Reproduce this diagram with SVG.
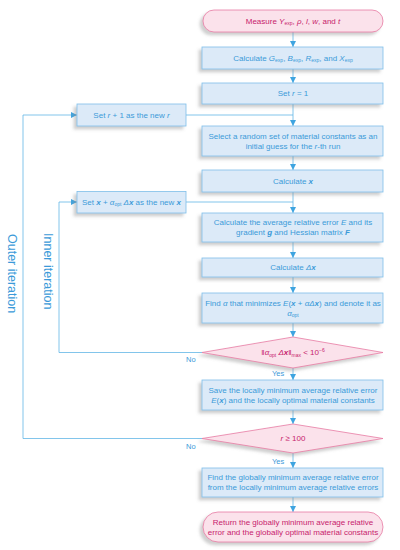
<svg xmlns="http://www.w3.org/2000/svg" width="400" height="550" viewBox="0 0 400 550">
<defs>
<style>
.box{fill:#dceaf8;stroke:#7fbfe9;stroke-width:0.8}
.term{fill:#fbe2eb;stroke:#e77ba3;stroke-width:0.8}
.dia{fill:#fbe2eb;stroke:#e77ba3;stroke-width:0.8}
text{font-family:"Liberation Sans",Arial,sans-serif;font-size:8px}
.t{fill:#3b9ad9;text-anchor:middle}
.p{fill:#c71c6c;text-anchor:middle}
.lbl{fill:#3b9ad9;font-size:7.5px}
.big{fill:#3b9ad9;font-size:12.5px}
.con{fill:none;stroke:#62b6e6;stroke-width:0.8}
.i{font-style:italic}
.b{font-style:italic;font-weight:bold}
.s{font-size:5px}
</style>
<marker id="ah" viewBox="0 0 10 10" refX="10" refY="5" markerWidth="6" markerHeight="6" markerUnits="userSpaceOnUse" orient="auto">
<path d="M0,0 L10,5 L0,10 z" fill="#3ea4e0"/>
</marker>
<filter id="sh" x="-10%" y="-20%" width="120%" height="150%">
<feDropShadow dx="-3" dy="3" stdDeviation="1.6" flood-color="#888" flood-opacity="0.4"/>
</filter>
</defs>

<g id="connectors">
<line class="con" x1="293" y1="32" x2="293" y2="47" marker-end="url(#ah)"/>
<line class="con" x1="293" y1="69" x2="293" y2="83" marker-end="url(#ah)"/>
<line class="con" x1="293" y1="104" x2="293" y2="126" marker-end="url(#ah)"/>
<line class="con" x1="186" y1="115" x2="293" y2="115"/>
<line class="con" x1="293" y1="156" x2="293" y2="170" marker-end="url(#ah)"/>
<line class="con" x1="293" y1="192" x2="293" y2="213" marker-end="url(#ah)"/>
<line class="con" x1="186" y1="202" x2="293" y2="202"/>
<line class="con" x1="293" y1="242" x2="293" y2="258" marker-end="url(#ah)"/>
<line class="con" x1="293" y1="277" x2="293" y2="293" marker-end="url(#ah)"/>
<line class="con" x1="293" y1="323" x2="293" y2="337" marker-end="url(#ah)"/>
<line class="con" x1="293" y1="368" x2="293" y2="380" marker-end="url(#ah)"/>
<line class="con" x1="293" y1="410" x2="293" y2="424" marker-end="url(#ah)"/>
<line class="con" x1="293" y1="453" x2="293" y2="468" marker-end="url(#ah)"/>
<line class="con" x1="293" y1="497" x2="293" y2="512" marker-end="url(#ah)"/>
<polyline class="con" points="202,352.5 59,352.5 59,202 77,202" marker-end="url(#ah)"/>
<polyline class="con" points="202,438.5 23,438.5 23,115 77,115" marker-end="url(#ah)"/>
<text class="lbl" x="186" y="362">No</text>
<text class="lbl" x="186" y="449">No</text>
<text class="lbl" x="272" y="376">Yes</text>
<text class="lbl" x="272" y="464">Yes</text>
<text class="big" transform="translate(7.5,234) rotate(90)">Outer iteration</text>
<text class="big" transform="translate(44,233) rotate(90)">Inner iteration</text>
</g>

<g id="start">
<rect class="term" x="203" y="10" width="180" height="22" rx="11" filter="url(#sh)"/>
<text class="p" x="293" y="23.8">Measure <tspan class="i">Y</tspan><tspan class="s" dy="1.6">exp</tspan><tspan dy="-1.6">, </tspan><tspan class="i">ρ</tspan>, <tspan class="i">l</tspan>, <tspan class="i">w</tspan>, and <tspan class="i">t</tspan></text>
</g>

<g id="calc-exp">
<rect class="box" x="202" y="47" width="181" height="22" filter="url(#sh)"/>
<text class="t" x="293" y="60.8">Calculate <tspan class="i">G</tspan><tspan class="s" dy="1.6">exp</tspan><tspan dy="-1.6">, </tspan><tspan class="i">B</tspan><tspan class="s" dy="1.6">exp</tspan><tspan dy="-1.6">, </tspan><tspan class="i">R</tspan><tspan class="s" dy="1.6">exp</tspan><tspan dy="-1.6">, and </tspan><tspan class="i">X</tspan><tspan class="s" dy="1.6">exp</tspan></text>
</g>

<g id="set-r">
<rect class="box" x="202" y="83" width="181" height="21" filter="url(#sh)"/>
<text class="t" x="293" y="96.3">Set <tspan class="i">r</tspan> = 1</text>
</g>

<g id="select">
<rect class="box" x="202" y="126" width="181" height="30" filter="url(#sh)"/>
<text class="t" x="293" y="138.8">Select a random set of material constants as an</text>
<text class="t" x="293" y="148.8">initial guess for the <tspan class="i">r</tspan>-th run</text>
</g>

<g id="calc-x">
<rect class="box" x="202" y="170" width="181" height="22" filter="url(#sh)"/>
<text class="t" x="293" y="183.8">Calculate <tspan class="b">x</tspan></text>
</g>

<g id="calc-E">
<rect class="box" x="202" y="213" width="181" height="29" filter="url(#sh)"/>
<text class="t" x="293" y="225.3">Calculate the average relative error <tspan class="i">E</tspan> and its</text>
<text class="t" x="293" y="235.3">gradient <tspan class="b">g</tspan> and Hessian matrix <tspan class="b">F</tspan></text>
</g>

<g id="calc-dx">
<rect class="box" x="202" y="258" width="181" height="19" filter="url(#sh)"/>
<text class="t" x="293" y="270.3">Calculate <tspan class="i">Δ</tspan><tspan class="b">x</tspan></text>
</g>

<g id="find-alpha">
<rect class="box" x="202" y="293" width="181" height="30" filter="url(#sh)"/>
<text class="t" x="293" y="305.8">Find <tspan class="i">α</tspan> that minimizes <tspan class="i">E</tspan>(<tspan class="b">x</tspan> + <tspan class="i">α</tspan><tspan class="i">Δ</tspan><tspan class="b">x</tspan>) and denote it as</text>
<text class="t" x="293" y="315.8"><tspan class="i">α</tspan><tspan class="s" dy="1.6">opt</tspan></text>
</g>

<g id="check-dx">
<polygon class="dia" points="202,352.5 293,337 383,352.5 293,368" filter="url(#sh)"/>
<text class="p" x="293" y="355.3">‖<tspan class="i">α</tspan><tspan class="s" dy="1.6">opt</tspan><tspan dy="-1.6"> </tspan><tspan class="i">Δ</tspan><tspan class="b">x</tspan>‖<tspan class="s" dy="1.6">max</tspan><tspan dy="-1.6"> &lt; 10</tspan><tspan class="s" dy="-3.2">−6</tspan></text>
</g>

<g id="save-local">
<rect class="box" x="202" y="380" width="181" height="30" filter="url(#sh)"/>
<text class="t" x="293" y="392.8">Save the locally minimum average relative error</text>
<text class="t" x="293" y="402.8"><tspan class="i">E</tspan>(<tspan class="b">x</tspan>) and the locally optimal material constants</text>
</g>

<g id="check-r">
<polygon class="dia" points="202,438.5 293,424 383,438.5 293,453" filter="url(#sh)"/>
<text class="p" x="293" y="441.3"><tspan class="i">r</tspan> ≥ 100</text>
</g>

<g id="find-global">
<rect class="box" x="202" y="468" width="181" height="29" filter="url(#sh)"/>
<text class="t" x="293" y="480.3">Find the globally minimum average relative error</text>
<text class="t" x="293" y="490.3">from the locally minimum average relative errors</text>
</g>

<g id="end">
<rect class="term" x="203" y="512" width="180" height="30" rx="15" filter="url(#sh)"/>
<text class="p" x="293" y="524.8">Return the globally minimum average relative</text>
<text class="p" x="293" y="534.8">error and the globally optimal material constants</text>
</g>

<g id="set-r-plus">
<rect class="box" x="77" y="104" width="109" height="22" filter="url(#sh)"/>
<text class="t" x="131.5" y="117.8">Set <tspan class="i">r</tspan> + 1 as the new <tspan class="i">r</tspan></text>
</g>

<g id="set-x-new">
<rect class="box" x="77" y="191.5" width="109" height="21.5" filter="url(#sh)"/>
<text class="t" x="131.5" y="204.8"><tspan>Set </tspan><tspan class="b">x</tspan> + <tspan class="i">α</tspan><tspan class="s" dy="1.6">opt</tspan><tspan dy="-1.6"> </tspan><tspan class="i">Δ</tspan><tspan class="b">x</tspan> as the new <tspan class="b">x</tspan></text>
</g>
</svg>
